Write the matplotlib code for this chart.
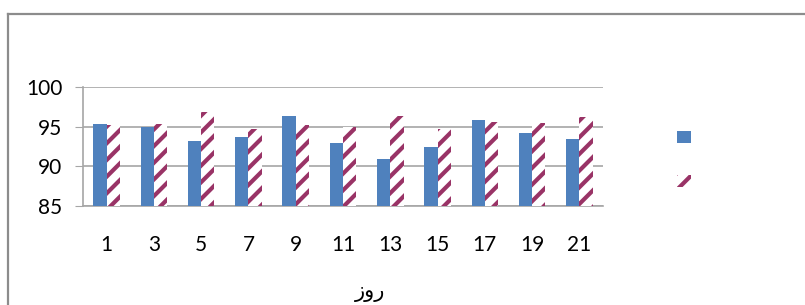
import numpy as np
import matplotlib
matplotlib.use("Agg")
import matplotlib.pyplot as plt
from matplotlib.lines import Line2D
from matplotlib.patches import Patch

# chart values
days = ['1', '3', '5', '7', '9', '11', '13', '15', '17', '19', '21']
series_a = [95.3, 95.0, 93.2, 93.7, 96.3, 93.0, 90.9, 92.5, 95.8, 94.2, 93.4]
series_b = [95.2, 95.3, 96.8, 94.7, 95.2, 94.9, 96.3, 94.7, 95.6, 95.5, 96.2]
y_ticks = [85, 90, 95, 100]
x_title = 'روز'

BLUE = '#4f81bd'
MAROON = '#993366'
GRID = '#a6a6a6'

plt.rcParams['font.family'] = ['Lato', 'DejaVu Sans']
plt.rcParams['hatch.linewidth'] = 3.0

fig = plt.figure(figsize=(8.05, 3.05), dpi=100)
ax = fig.add_axes([83 / 805, 1 - 206 / 305, 520 / 805, 119 / 305])

x = np.arange(len(days))
w = 0.28
ax.bar(x - w / 2, series_a, w, color=BLUE, linewidth=0, zorder=3)
ax.bar(x + w / 2, series_b, w, facecolor='white', edgecolor=MAROON,
       hatch='//', linewidth=0, zorder=3)

ax.set_xlim(-0.5, len(days) - 0.5)
ax.set_ylim(85, 100)
ax.set_yticks(y_ticks)
ax.set_xticks(x)
ax.set_xticklabels(days)
ax.tick_params(axis='y', length=6, color=GRID, labelsize=15, pad=9)
ax.tick_params(axis='x', length=0, labelsize=15, pad=21)
ax.yaxis.grid(True, color=GRID, linewidth=1.2, zorder=0)

for s in ['top', 'right']:
    ax.spines[s].set_visible(False)
for s in ['left', 'bottom']:
    ax.spines[s].set_color(GRID)
    ax.spines[s].set_linewidth(1.2)

# matplotlib has no RTL shaping, reverse for display
fig.text(370 / 805, 1 - 292 / 305, x_title[::-1], family='DejaVu Sans',
         fontsize=15, ha='center', va='center')

handles = [Patch(facecolor=BLUE, linewidth=0),
           Patch(facecolor='white', edgecolor=MAROON, hatch='//', linewidth=0)]
fig.legend(handles, [' ', ' '], loc='upper left',
           bbox_to_anchor=(677 / 805, 1 - 131 / 305), frameon=False,
           fontsize=10, handlelength=1, handleheight=1, handletextpad=0,
           borderpad=0, borderaxespad=0, labelspacing=2.2)

# outer frame: top and left edges only
fig.add_artist(Line2D([8 / 805, 1], [1 - 14 / 305, 1 - 14 / 305],
                      color='#8c8c8c', linewidth=1.6))
fig.add_artist(Line2D([8 / 805, 8 / 805], [0, 1 - 14 / 305],
                      color='#8c8c8c', linewidth=1.6))

fig.savefig('out.png', dpi=100)
